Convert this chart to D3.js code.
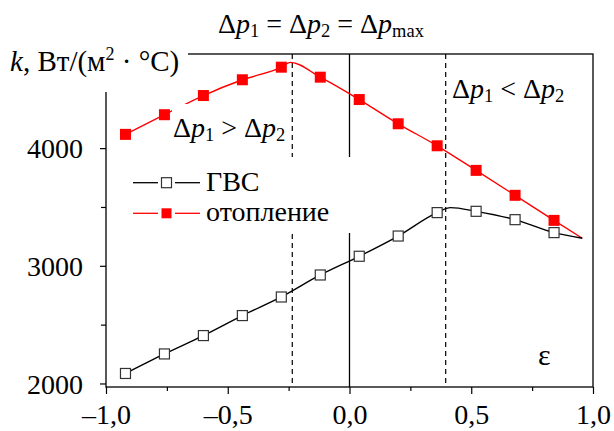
<!DOCTYPE html>
<html>
<head>
<meta charset="utf-8">
<script src="https://cdn.jsdelivr.net/npm/d3@7"></script>
<style>
  body { margin: 0; background: #fff; }
</style>
</head>
<body>
<svg width="614" height="431"></svg>
<script>
// values
const eps  = [-0.92, -0.76, -0.60, -0.44, -0.28, -0.12, 0.04, 0.20, 0.36, 0.52, 0.68, 0.84];
const gvs  = [2085, 2251, 2407, 2577, 2735, 2922, 3081, 3253, 3452, 3463, 3392, 3282];
const heat = [4117, 4284, 4447, 4581, 4688, 4603, 4413, 4207, 4020, 3811, 3599, 3386];

// curve points without markers (peaks and common end point)
const heatPeak = [-0.243, 4729];
const gvsPeak  = [0.415, 3494];
const endPoint = [0.956, 3234];

const xTicks = [-1, -0.5, 0, 0.5, 1];
const xMinor = [-0.75, -0.25, 0.25, 0.75];
const yTicks = [2000, 3000, 4000];
const yMinor = [2500, 3500];
const zones  = [-0.235, 0.395];   // dashed boundaries

const FONT = '"Liberation Serif"';

const svg = d3.select('svg');

const x = d3.scaleLinear().domain([-1, 1]).range([106, 593]);
const y = d3.scaleLinear().domain([1970, 4800]).range([387, 54]);

const fmt = v => (v < 0 ? '\u2013' : '') + d3.format('.1f')(Math.abs(v)).replace('.', ',');

const txt = (sel, size) => sel.style('font-family', FONT).style('font-size', size + 'px').attr('fill', '#000');

// frame
svg.append('rect')
    .attr('x', x(-1)).attr('y', y(4800))
    .attr('width', x(1) - x(-1)).attr('height', y(1970) - y(4800))
    .attr('fill', 'none').attr('stroke', '#000').attr('stroke-width', 1.3);

// axes
const xAxis = svg.append('g').attr('transform', `translate(0,${y(1970)})`);
xAxis.call(d3.axisBottom(x).tickValues(xTicks).tickSize(7).tickFormat(fmt));
xAxis.append('g').call(d3.axisBottom(x).tickValues(xMinor).tickSize(4).tickFormat(''));

const yAxis = svg.append('g').attr('transform', `translate(${x(-1)},0)`);
yAxis.call(d3.axisLeft(y).tickValues(yTicks).tickSize(6).tickFormat(d3.format('d')));
yAxis.append('g').call(d3.axisLeft(y).tickValues(yMinor).tickSize(5).tickFormat(''));

svg.selectAll('.domain').remove();
svg.selectAll('.tick line').attr('stroke', '#000').attr('stroke-width', 1.2);
txt(xAxis.selectAll('.tick text'), 28).attr('dy', '0.95em');
txt(yAxis.selectAll('.tick text'), 28).attr('x', -23).attr('dy', '0.35em');

// white area behind the y label
svg.append('rect').attr('x', 0).attr('y', 0).attr('width', 188).attr('height', 92).attr('fill', '#fff');

// vertical lines
svg.append('line')
    .attr('x1', x(0)).attr('x2', x(0)).attr('y1', y(4800)).attr('y2', y(1970))
    .attr('stroke', '#000').attr('stroke-width', 1.3);
svg.selectAll('line.zone').data(zones).enter().append('line')
    .attr('class', 'zone')
    .attr('x1', d => x(d)).attr('x2', d => x(d))
    .attr('y1', y(4800)).attr('y2', y(1970))
    .attr('stroke', '#000').attr('stroke-width', 1.2)
    .attr('stroke-dasharray', '5,4');

// legend background
svg.append('rect').attr('x', 108).attr('y', 157).attr('width', 250).attr('height', 76).attr('fill', '#fff');

// curves
const line = d3.line().x(d => x(d[0])).y(d => y(d[1])).curve(d3.curveMonotoneX);

const heatPts = eps.map((e, i) => [e, heat[i]]);
const gvsPts  = eps.map((e, i) => [e, gvs[i]]);
const heatCurve = heatPts.concat([heatPeak, endPoint]).sort((a, b) => a[0] - b[0]);
const gvsCurve  = gvsPts.concat([gvsPeak, endPoint]).sort((a, b) => a[0] - b[0]);

svg.append('path').attr('d', line(heatCurve))
    .attr('fill', 'none').attr('stroke', '#f00').attr('stroke-width', 1.4);
svg.append('path').attr('d', line(gvsCurve))
    .attr('fill', 'none').attr('stroke', '#000').attr('stroke-width', 1.4);

// markers
svg.selectAll('rect.heat').data(heatPts).enter().append('rect')
    .attr('class', 'heat')
    .attr('x', d => x(d[0]) - 5.5).attr('y', d => y(d[1]) - 5.5)
    .attr('width', 11).attr('height', 11).attr('fill', '#f00');
svg.selectAll('rect.gvs').data(gvsPts).enter().append('rect')
    .attr('class', 'gvs')
    .attr('x', d => x(d[0]) - 5).attr('y', d => y(d[1]) - 5)
    .attr('width', 10).attr('height', 10)
    .attr('fill', '#fff').attr('stroke', '#333').attr('stroke-width', 1.2);

// legend
const legend = [
    { name: 'ГВС', color: '#000', fill: '#fff', stroke: '#333', ly: 182.7 },
    { name: 'отопление', color: '#f00', fill: '#f00', stroke: 'none', ly: 213.3 }
];
legend.forEach(l => {
    svg.append('line').attr('x1', 133).attr('x2', 158).attr('y1', l.ly).attr('y2', l.ly)
        .attr('stroke', l.color).attr('stroke-width', 1.3);
    svg.append('line').attr('x1', 175).attr('x2', 200).attr('y1', l.ly).attr('y2', l.ly)
        .attr('stroke', l.color).attr('stroke-width', 1.3);
    svg.append('rect').attr('x', 161.5).attr('y', l.ly - 5).attr('width', 10).attr('height', 10)
        .attr('fill', l.fill).attr('stroke', l.stroke).attr('stroke-width', 1.2);
    txt(svg.append('text'), 28).attr('x', 206).attr('y', l.ly + 8).text(l.name);
});

// annotation helper: Δp₁ ? Δp₂
function deltaText(parts, size) {
    const t = txt(svg.append('text'), size);
    parts.forEach(p => {
        const s = t.append('tspan').text(p.t);
        if (p.i) s.style('font-style', 'italic');
        if (p.sub) s.style('font-size', (size * 0.66) + 'px').attr('dy', p.sub);
        if (p.up) s.attr('dy', p.up);
    });
    return t;
}

// "Δp1 > Δp2" with white background
svg.append('rect').attr('x', 172).attr('y', 104).attr('width', 117).attr('height', 40).attr('fill', '#fff');
deltaText([
    { t: 'Δ' }, { t: 'p', i: 1 }, { t: '1', sub: 4 }, { t: ' > Δ', up: -4 },
    { t: 'p', i: 1 }, { t: '2', sub: 4 }
], 28).attr('x', 173).attr('y', 137);

deltaText([
    { t: 'Δ' }, { t: 'p', i: 1 }, { t: '1', sub: 4 }, { t: ' < Δ', up: -4 },
    { t: 'p', i: 1 }, { t: '2', sub: 4 }
], 28).attr('x', 452).attr('y', 98);

// title
deltaText([
    { t: 'Δ' }, { t: 'p', i: 1 }, { t: '1', sub: 4 }, { t: ' = Δ', up: -4 },
    { t: 'p', i: 1 }, { t: '2', sub: 4 }, { t: ' = Δ', up: -4 },
    { t: 'p', i: 1 }, { t: 'max', sub: 4 }
], 28).attr('x', 218).attr('y', 33);

// y label
const yl = txt(svg.append('text'), 29).attr('x', 10).attr('y', 71);
yl.append('tspan').style('font-style', 'italic').text('k');
yl.append('tspan').text(', Вт/(м');
yl.append('tspan').style('font-size', '18px').attr('dy', -11).text('2');
yl.append('tspan').attr('dy', 11).text(' · °C)');

// axis name
txt(svg.append('text'), 30).attr('x', 538).attr('y', 365).text('ε');
</script>
</body>
</html>
